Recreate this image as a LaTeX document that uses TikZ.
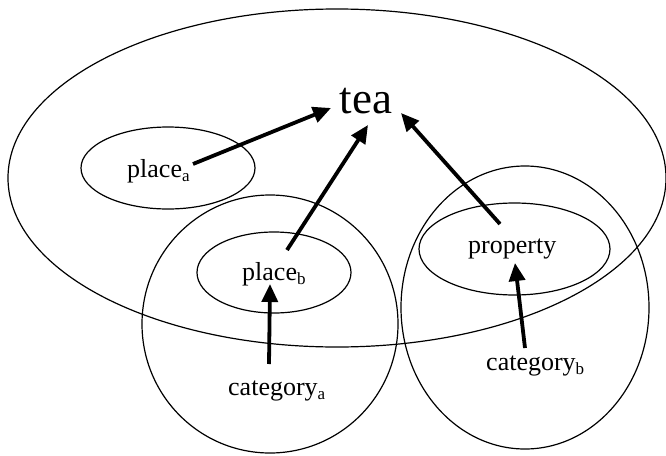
\documentclass[tikz,border=0pt]{standalone}
\usepackage{fontspec}
\setmainfont{Liberation Serif}
\usetikzlibrary{arrows.meta}
\newcommand{\lowsub}[1]{\raisebox{-4pt}{\fontsize{17}{17}\selectfont #1}}
\begin{document}
\begin{tikzpicture}[x=1pt,y=-1pt,
  region/.style={draw=black,line width=1.2pt},
  lbl/.style={inner sep=0pt,font=\fontsize{26}{26}\selectfont},
  arr/.style={line width=3.8pt,-{Triangle[length=18pt,width=16pt]}}]
\useasboundingbox (0,0) rectangle (666,455);
% regions
\draw[region] (337,178) ellipse [x radius=329, y radius=169];
\draw[region] (168,168) ellipse [x radius=87, y radius=41];
\draw[region] (270,324) ellipse [x radius=128, y radius=129];
\draw[region] (274,272.5) ellipse [x radius=77, y radius=40.5];
\draw[region] (525,307.5) ellipse [x radius=124, y radius=141.5];
\draw[region] (514.5,249) ellipse [x radius=95.5, y radius=46];
% labels
\node[inner sep=0pt,anchor=base,font=\fontsize{45}{45}\selectfont] (tea) at (366,113) {tea};
\node[lbl,anchor=base west] (pa) at (127,177) {place\lowsub{a}};
\node[lbl,anchor=base west] (pb) at (242,280) {place\lowsub{b}};
\node[lbl,anchor=base west] (pr) at (468,253) {property};
\node[lbl,anchor=base west] (ca) at (228,395) {category\lowsub{a}};
\node[lbl,anchor=base west] (cb) at (486,370) {category\lowsub{b}};
% arrow end points
\coordinate (paS) at (193,164);
\coordinate (teaL) at (331,108);
\coordinate (pbS) at (287,250);
\coordinate (teaB) at (368,125);
\coordinate (prS) at (500,224);
\coordinate (teaR) at (401,113);
\coordinate (caS) at (269,364);
\coordinate (pbB) at (270,284);
\coordinate (cbS) at (525,348);
\coordinate (prB) at (515,263);
% arrows
\draw[arr] (paS) -- (teaL);
\draw[arr] (pbS) -- (teaB);
\draw[arr] (prS) -- (teaR);
\draw[arr] (caS) -- (pbB);
\draw[arr] (cbS) -- (prB);
\end{tikzpicture}
\end{document}
